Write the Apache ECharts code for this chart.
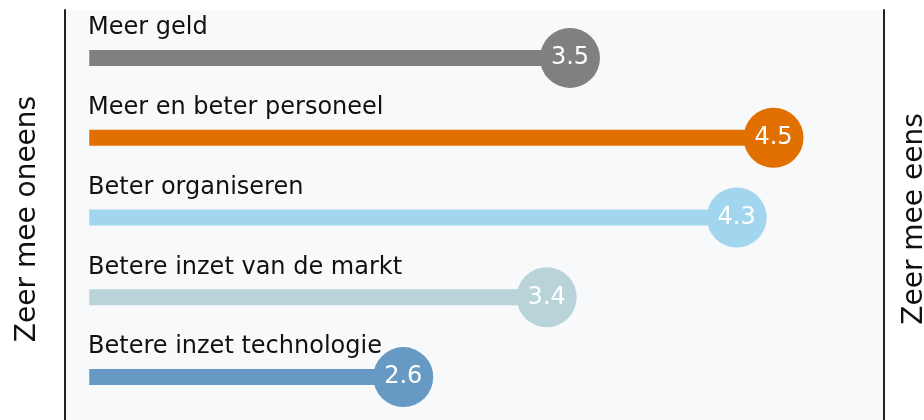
<!DOCTYPE html>
<html>
<head>
<meta charset="utf-8">
<title>Oplossingen</title>
<script src="https://cdn.jsdelivr.net/npm/echarts@6/dist/echarts.min.js"></script>
<style>
    html, body { margin: 0; padding: 0; background: #ffffff; }
    #chart { width: 924px; height: 420px; }
</style>
</head>
<body>
<div id="chart"></div>
<script>
// categorieen (van boven naar beneden)
var categories = ['Meer geld', 'Meer en beter personeel', 'Beter organiseren', 'Betere inzet van de markt', 'Betere inzet technologie']
// gemiddelde score op schaal 1-5
var scores = [3.48, 4.53, 4.34, 3.36, 2.62]
var colors = ['#808080', '#e17000', '#a2d6ee', '#b9d4d9', '#6699c4']
// begin van de schaal, daar start de staaf
var scaleStart = 1
var leftTitle = 'Zeer mee oneens'
var rightTitle = 'Zeer mee eens'

var font = 'DejaVu Sans'

var myChart = echarts.init(document.getElementById('chart'))

myChart.setOption({
    animation: false,
    grid: [
        // achtergrond + verticale lijnen
        { left: 65, right: 40, top: 10, bottom: 0, show: true, backgroundColor: '#f8f9fb', borderWidth: 0, outerBoundsMode: 'none' },
        // data
        { left: 65, right: 40, top: 18, bottom: 3, outerBoundsMode: 'none' }
    ],
    xAxis: [
        { gridIndex: 0, type: 'value', min: 0, max: 1, show: false },
        { gridIndex: 1, type: 'value', min: 0.875, max: 5.1, show: false }
    ],
    yAxis: [
        {
            gridIndex: 0, type: 'value', position: 'left', min: 0, max: 1,
            axisLine: { show: true, lineStyle: { color: '#222', width: 2 } },
            axisTick: { show: false }, axisLabel: { show: false }, splitLine: { show: false },
            name: leftTitle, nameLocation: 'middle', nameRotate: 90, nameGap: 23,
            nameTextStyle: { fontFamily: font, fontSize: 28, color: '#111', padding: [0, 8, 0, 0] }
        },
        {
            gridIndex: 0, type: 'value', position: 'right', min: 0, max: 1,
            axisLine: { show: true, lineStyle: { color: '#222', width: 2 } },
            axisTick: { show: false }, axisLabel: { show: false }, splitLine: { show: false },
            name: rightTitle, nameLocation: 'middle', nameRotate: 90, nameGap: 17,
            nameTextStyle: { fontFamily: font, fontSize: 28, color: '#111', padding: [0, 8, 0, 0] }
        },
        {
            gridIndex: 1, type: 'category', data: categories, inverse: true,
            axisLine: { show: false }, axisTick: { show: false },
            axisLabel: {
                inside: true, interval: 0, margin: 23,
                fontFamily: font, fontSize: 24, color: '#111',
                verticalAlign: 'bottom', lineHeight: 60
            }
        }
    ],
    series: [
        {
            // onzichtbaar stuk tot begin schaal
            type: 'bar', xAxisIndex: 1, yAxisIndex: 2, stack: 'stok', barWidth: 16, silent: true,
            itemStyle: { color: 'rgba(0,0,0,0)' },
            data: categories.map(function () { return scaleStart })
        },
        {
            type: 'bar', xAxisIndex: 1, yAxisIndex: 2, stack: 'stok', barWidth: 16,
            data: scores.map(function (v, i) {
                return { value: v - scaleStart, itemStyle: { color: colors[i] } }
            })
        },
        {
            type: 'scatter', xAxisIndex: 1, yAxisIndex: 2, symbolSize: 60, z: 5,
            label: {
                show: true, position: 'inside', color: '#fff', fontFamily: font, fontSize: 24,
                formatter: function (p) { return p.value[0].toFixed(1) }
            },
            data: scores.map(function (v, i) {
                return { value: [v, categories[i]], itemStyle: { color: colors[i], opacity: 1 } }
            })
        }
    ]
})
</script>
</body>
</html>
